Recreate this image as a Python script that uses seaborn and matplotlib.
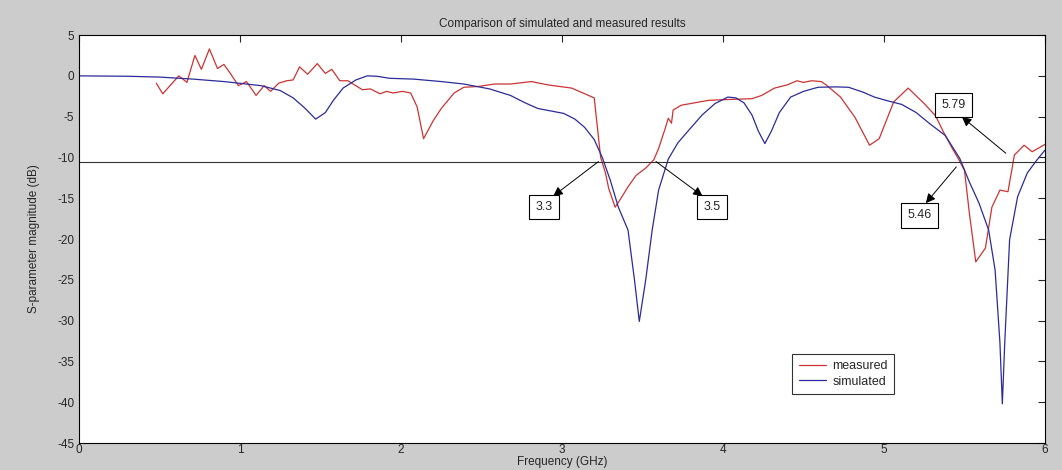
import pandas as pd
import seaborn as sns
import matplotlib.pyplot as plt

# measured S11 (GHz, dB)
meas_freq = [0.48, 0.52, 0.62, 0.67, 0.72, 0.76, 0.81, 0.86, 0.90, 0.94, 0.99, 1.04, 1.10, 1.15,
             1.19, 1.24, 1.29, 1.33, 1.37, 1.42, 1.48, 1.53, 1.57, 1.62, 1.67, 1.76, 1.81, 1.87,
             1.91, 1.95, 2.01, 2.06, 2.10, 2.14, 2.20, 2.25, 2.33, 2.39, 2.48, 2.58, 2.68, 2.81,
             2.91, 3.06, 3.20, 3.24, 3.27, 3.29, 3.33, 3.36, 3.41, 3.46, 3.52, 3.57, 3.60, 3.64,
             3.66, 3.68, 3.69, 3.74, 3.91, 4.03, 4.18, 4.24, 4.32, 4.40, 4.46, 4.50, 4.55, 4.61,
             4.64, 4.73, 4.82, 4.91, 4.97, 5.06, 5.15, 5.25, 5.32, 5.37, 5.43, 5.46, 5.50, 5.53,
             5.57, 5.63, 5.67, 5.72, 5.77, 5.81, 5.87, 5.92, 6.00]
meas_db = [-0.9, -2.2, 0.0, -0.8, 2.5, 0.8, 3.3, 0.9, 1.4, 0.3, -1.2, -0.7, -2.4, -1.2,
           -1.9, -0.9, -0.6, -0.5, 1.1, 0.2, 1.5, 0.3, 0.8, -0.6, -0.6, -1.7, -1.6, -2.2,
           -1.9, -2.1, -1.9, -2.1, -3.8, -7.7, -5.5, -4.0, -2.1, -1.4, -1.3, -1.0, -1.0, -0.7,
           -1.1, -1.5, -2.7, -10.0, -11.9, -13.8, -16.1, -15.2, -13.6, -12.2, -11.3, -10.3, -8.9, -6.5,
           -5.2, -5.8, -4.2, -3.6, -3.0, -2.9, -2.8, -2.4, -1.5, -1.1, -0.6, -0.8, -0.6, -0.7,
           -1.1, -2.6, -5.1, -8.5, -7.7, -3.2, -1.5, -3.4, -4.9, -6.9, -9.1, -10.1, -11.6, -16.8,
           -22.8, -21.1, -16.1, -14.0, -14.2, -9.7, -8.5, -9.3, -8.4]

# simulated S11 (GHz, dB)
sim_freq = [0.0, 0.3, 0.5, 0.71, 0.9, 1.13, 1.25, 1.33, 1.40, 1.47, 1.53, 1.58, 1.64, 1.72,
            1.79, 1.85, 1.93, 2.08, 2.25, 2.39, 2.55, 2.68, 2.77, 2.85, 2.93, 3.01, 3.08, 3.14,
            3.20, 3.25, 3.30, 3.35, 3.41, 3.45, 3.48, 3.52, 3.56, 3.60, 3.66, 3.72, 3.79, 3.87,
            3.95, 4.03, 4.08, 4.13, 4.18, 4.22, 4.26, 4.30, 4.35, 4.42, 4.50, 4.59, 4.70, 4.78,
            4.87, 4.94, 5.03, 5.11, 5.20, 5.28, 5.38, 5.47, 5.53, 5.59, 5.65, 5.69, 5.72, 5.735,
            5.75, 5.78, 5.83, 5.89, 5.95, 6.00]
sim_db = [0.0, -0.05, -0.15, -0.4, -0.7, -1.2, -1.8, -2.7, -3.9, -5.3, -4.5, -3.0, -1.5, -0.5,
          0.0, -0.05, -0.3, -0.4, -0.7, -1.0, -1.6, -2.4, -3.3, -4.0, -4.3, -4.6, -5.3, -6.3,
          -7.8, -10.0, -12.8, -16.1, -18.9, -25.0, -30.1, -25.0, -18.9, -14.0, -10.2, -8.2, -6.6, -4.8,
          -3.4, -2.6, -2.7, -3.3, -4.8, -6.8, -8.3, -6.8, -4.5, -2.6, -1.9, -1.4, -1.35, -1.4,
          -2.0, -2.6, -3.1, -3.5, -4.5, -5.8, -7.3, -10.1, -13.0, -15.6, -18.9, -23.8, -32.7, -40.2,
          -32.7, -20.1, -14.8, -11.9, -10.3, -9.1]

threshold = -10.5
marker_labels = ["3.3", "3.5", "5.46", "5.79"]
arrow_start = [(3.24, -10.3), (3.57, -10.3), (5.46, -10.9), (5.77, -9.7)]
box_pos = [(2.89, -16.1), (3.93, -16.1), (5.22, -17.1), (5.43, -3.6)]

df = pd.concat([
    pd.DataFrame({"freq": meas_freq, "db": meas_db, "kind": "measured"}),
    pd.DataFrame({"freq": sim_freq, "db": sim_db, "kind": "simulated"}),
])

sns.set_style("white")
plt.rcParams["font.family"] = ["Liberation Sans Narrow", "Liberation Sans", "DejaVu Sans"]
plt.rcParams["axes.unicode_minus"] = False

fig = plt.figure(figsize=(10.62, 4.7), dpi=100, facecolor="#cccccc")
ax = fig.add_axes([0.0744, 0.0574, 0.9096, 0.868])
ax.set_facecolor("white")

sns.lineplot(data=df, x="freq", y="db", hue="kind", sort=False,
             palette={"measured": "#cc3333", "simulated": "#2b2b99"},
             linewidth=0.9, ax=ax)
ax.axhline(threshold, color="#333333", lw=0.8)

for lab, (x0, y0), (bx, by) in zip(marker_labels, arrow_start, box_pos):
    ax.annotate("", xy=(x0 + (bx - x0) * 0.88, y0 + (by - y0) * 0.8), xytext=(x0, y0),
                arrowprops=dict(arrowstyle="-|>", color="black", lw=0.7, mutation_scale=14))
    ax.text(bx, by, lab, ha="center", va="center", fontsize=9,
            bbox=dict(boxstyle="square,pad=0.5", fc="white", ec="black", lw=0.8))

ax.set_xlim(0, 6)
ax.set_ylim(-45, 5)
ax.set_xticks(range(0, 7))
ax.set_yticks(range(-45, 6, 5))
ax.tick_params(direction="in", length=5, labelsize=8.5, top=True, right=True,
               labeltop=False, labelright=False)
ax.tick_params(axis="x", pad=1)
for s in ax.spines.values():
    s.set_color("black")
    s.set_linewidth(0.8)

ax.set_xlabel("Frequency (GHz)", fontsize=8.5, labelpad=0)
ax.set_ylabel("S-parameter magnitude (dB)", fontsize=8.5, labelpad=12)
ax.set_title("Comparison of simulated and measured results", fontsize=8.5, pad=6)

leg = ax.legend(loc="lower left", bbox_to_anchor=(0.732, 0.105), fontsize=9,
                frameon=True, fancybox=False, edgecolor="black", handlelength=2.2,
                borderpad=0.5, labelspacing=0.3, handletextpad=0.5)
leg.get_frame().set_linewidth(0.8)

fig.savefig("out.png", dpi=100, facecolor=fig.get_facecolor())
